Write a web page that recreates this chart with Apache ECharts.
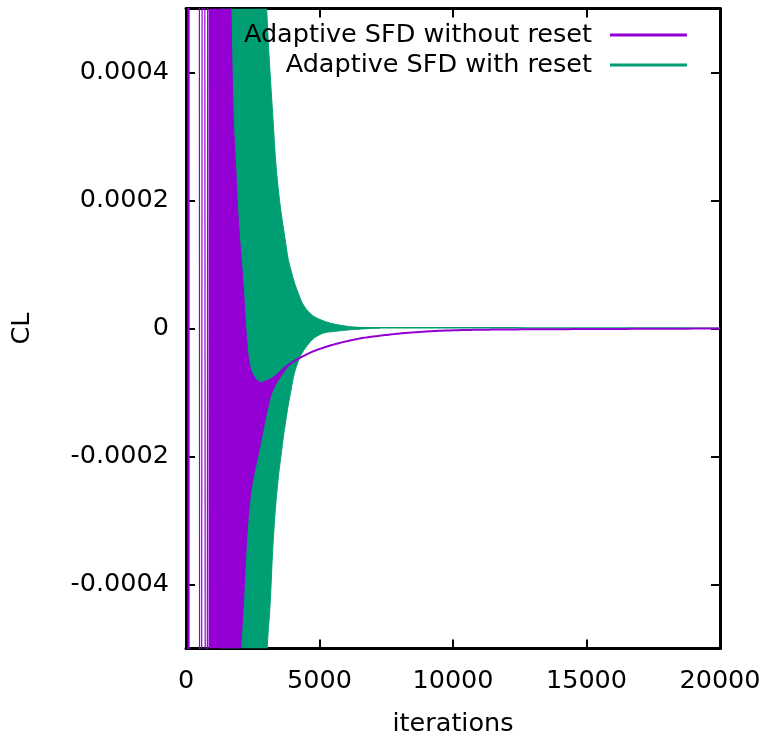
<!DOCTYPE html>
<html>
<head>
<meta charset="utf-8">
<script src="https://cdn.jsdelivr.net/npm/echarts@6/dist/echarts.min.js"></script>
<style>html,body{margin:0;padding:0;background:#fff}#c{width:766px;height:738px}</style>
</head>
<body>
<div id="c"></div>
<script>
// ---- data ----
const seriesNames = ['Adaptive SFD without reset', 'Adaptive SFD with reset'];
const xTickValues = [0, 5000, 10000, 15000, 20000];
const yTickValues = [-0.0004, -0.0002, 0, 0.0002, 0.0004];

// "without reset": early large swings (off-window peaks; only their crossings are visible)
const purpleEarlyIter = [40, 110, 120, 480, 530, 660, 765, 845];
const purpleEarlyVal  = [0.004, -0.004, 0.004, 0.004, -0.004, 0.004, -0.004, 0.004];
// "without reset": envelope of the dense oscillation
const purpleUpperIter = [861, 1600, 1685, 1771, 1835, 1959, 2146, 2273, 2397, 2584, 2870];
const purpleUpperVal  = [0.003, 0.00076, 0.0005, 0.000327, 0.000275, 0.00017, 0.0000656, -0.0000172, -0.0000589, -0.000077, -0.0000848];
const purpleLowerIter = [861, 1700, 2060, 2146, 2273, 2397, 2509, 2648, 2771, 2895, 3082, 3269, 3644, 3958, 4270];
const purpleLowerVal  = [-0.003, -0.00085, -0.000496, -0.000434, -0.00033, -0.000267, -0.000236, -0.000208, -0.000184, -0.000158, -0.000121, -0.0000953, -0.0000692, -0.0000536, -0.0000458];
// "without reset": slowly converging mean curve
const purpleCurveIter = [2870, 3270, 3770, 4270, 5019, 6254, 7378, 8640, 9887, 11760, 15505, 20000];
const purpleCurveVal  = [-0.0000848, -0.000077, -0.0000589, -0.0000458, -0.0000318, -0.0000178, -0.0000107, -0.0000057, -0.000003, -0.0000016, -0.0000008, 0];

// "with reset": envelope of the dense oscillation
const greenUpperIter = [1300, 2450, 2800, 3020, 3258, 3445, 3771, 3895, 4195, 4520, 5019, 6018, 7265];
const greenUpperVal  = [0.003, 0.0014, 0.00074, 0.0005, 0.000327, 0.000222, 0.000123, 0.0000969, 0.0000563, 0.0000297, 0.0000141, 0.0000036, 0.0000008];
const greenLowerIter = [1300, 2500, 2850, 3045, 3146, 3269, 3420, 3600, 3708, 3895, 4146, 4520, 5019, 5644, 6500, 7265];
const greenLowerVal  = [-0.003, -0.0015, -0.00072, -0.000497, -0.000434, -0.00033, -0.000248, -0.000185, -0.000152, -0.000105, -0.000058, -0.0000277, -0.0000094, -0.0000042, -0.000001, 0.0000008];
// "with reset": settled value
const greenCurveIter = [6018, 7265, 11760, 20000];
const greenCurveVal  = [0.0000012, 0.000001, 0.000001, 0.0000005];

// ---- styling ----
const PURPLE = '#9400d3';
const GREEN = '#009e73';
const FONT = 'DejaVu Sans';
const FS = 25.5;

function pairs(xs, ys) { return xs.map((x, i) => [x, ys[i]]); }

// smooth rendering (length-weighted cubic Bezier) of a pixel-space polyline
function smoothPixels(pts, seg) {
  const out = [];
  const n = pts.length;
  if (n < 3) return pts.slice();
  const dist = (a, b) => Math.hypot(a[0] - b[0], a[1] - b[1]) || 1e-6;
  const S = 0.4;
  for (let i = 0; i < n - 1; i++) {
    const p0 = pts[i - 1] || pts[i], p1 = pts[i], p2 = pts[i + 1], p3 = pts[i + 2] || pts[i + 1];
    const d01 = i > 0 ? dist(p0, p1) : 0, d12 = dist(p1, p2), d23 = i + 2 < n ? dist(p2, p3) : 0;
    const f1 = S * d12 / (d01 + d12), f2 = S * d12 / (d12 + d23);
    const c1 = [p1[0] + (p2[0] - p0[0]) * f1, p1[1] + (p2[1] - p0[1]) * f1];
    const c2 = [p2[0] - (p3[0] - p1[0]) * f2, p2[1] - (p3[1] - p1[1]) * f2];
    for (let k = 0; k < seg; k++) {
      const t = k / seg, u = 1 - t;
      const a = u * u * u, b = 3 * u * u * t, c = 3 * u * t * t, d = t * t * t;
      out.push([a * p1[0] + b * c1[0] + c * c2[0] + d * p2[0], a * p1[1] + b * c1[1] + c * c2[1] + d * p2[1]]);
    }
  }
  out.push(pts[n - 1]);
  return out;
}

function clipOf(params) {
  const cs = params.coordSys;
  return { type: 'rect', shape: { x: cs.x, y: cs.y, width: cs.width, height: cs.height } };
}

function band(name, color, ux, uy, lx, ly) {
  return {
    name: name, type: 'custom', coordinateSystem: 'cartesian2d',
    clip: true, silent: true,
    itemStyle: { color: color },
    data: [[ux[0], 0]],
    encode: { x: 0, y: 1 },
    renderItem: function (params, api) {
      const up = ux.map((x, i) => api.coord([x, uy[i]]));
      const lo = lx.map((x, i) => api.coord([x, ly[i]]));
      const pts = smoothPixels(up, 20).concat(smoothPixels(lo, 20).reverse());
      return {
        type: 'polygon',
        shape: { points: pts },
        style: { fill: color, stroke: color, lineWidth: 1 },
        clipPath: clipOf(params)
      };
    }
  };
}

function curve(name, color, xs, ys, width) {
  return {
    name: name, type: 'custom', coordinateSystem: 'cartesian2d',
    clip: true, silent: true,
    itemStyle: { color: color },
    data: [[xs[0], ys[0]]],
    encode: { x: 0, y: 1 },
    renderItem: function (params, api) {
      const p = xs.map((x, i) => api.coord([x, ys[i]]));
      return {
        type: 'polyline',
        shape: { points: smoothPixels(p, 20) },
        style: { fill: null, stroke: color, lineWidth: width, lineJoin: 'round' },
        clipPath: clipOf(params)
      };
    }
  };
}

function lineSeries(name, color, data, width) {
  return {
    name: name, type: 'line', data: data, showSymbol: false, symbol: 'none',
    clip: true, silent: true, connectNulls: false,
    lineStyle: { color: color, width: width }, itemStyle: { color: color }
  };
}

const frame = { show: true, onZero: false, lineStyle: { color: '#000', width: 3 } };
const ticks = { show: true, inside: true, length: 9, lineStyle: { color: '#000', width: 2 } };

function yFmt(v) {
  if (Math.abs(v) < 1e-12) return '0';
  for (const t of yTickValues) if (Math.abs(v - t) < 1e-9) return t.toFixed(4);
  return '';
}
function xFmt(v) { return String(Math.round(v)); }

// purple band: its top edge follows the mean curve once the oscillation has died out
const purpleBandUpperIter = purpleUpperIter.concat(purpleCurveIter.filter(x => x > 2870 && x <= 4270));
const purpleBandUpperVal = purpleUpperVal.concat(purpleCurveVal.filter((v, i) => purpleCurveIter[i] > 2870 && purpleCurveIter[i] <= 4270));

const chart = echarts.init(document.getElementById('c'), null, { renderer: 'canvas' });
chart.setOption({
  animation: false,
  backgroundColor: '#fff',
  textStyle: { fontFamily: FONT },
  grid: { left: 186, right: 46, top: 8.5, bottom: 89.5, containLabel: false, outerBoundsMode: 'none' },
  legend: {
    orient: 'vertical', right: 79, top: 20, padding: 0, itemGap: 0,
    align: 'right', itemWidth: 77, itemHeight: 3, selectedMode: false,
    textStyle: { fontFamily: FONT, fontSize: FS, color: '#000', lineHeight: 30, padding: [0, 13, 0, 0] },
    data: [
      { name: seriesNames[0], icon: 'rect', itemStyle: { color: PURPLE } },
      { name: seriesNames[1], icon: 'rect', itemStyle: { color: GREEN } }
    ]
  },
  xAxis: [
    {
      type: 'value', min: xTickValues[0], max: xTickValues[xTickValues.length - 1], interval: 5000, position: 'bottom',
      axisLine: frame, axisTick: ticks, splitLine: { show: false },
      axisLabel: { color: '#000', fontSize: FS, fontFamily: FONT, margin: 20, formatter: xFmt },
      name: 'iterations', nameLocation: 'middle', nameGap: 63,
      nameTextStyle: { color: '#000', fontSize: FS, fontFamily: FONT }
    },
    {
      type: 'value', min: xTickValues[0], max: xTickValues[xTickValues.length - 1], interval: 5000, position: 'top',
      axisLine: frame, axisTick: ticks, splitLine: { show: false }, axisLabel: { show: false }
    }
  ],
  yAxis: [
    {
      type: 'value', min: -0.0005, max: 0.0005, splitNumber: 5, position: 'left',
      axisLine: frame, axisTick: ticks, splitLine: { show: false },
      axisLabel: { color: '#000', fontSize: FS, fontFamily: FONT, margin: 17, formatter: yFmt },
      name: 'CL', nameLocation: 'middle', nameGap: 151, nameRotate: 90,
      nameTextStyle: { color: '#000', fontSize: FS, fontFamily: FONT }
    },
    {
      type: 'value', min: -0.0005, max: 0.0005, splitNumber: 5, position: 'right',
      axisLine: frame, axisTick: ticks, splitLine: { show: false }, axisLabel: { show: false }
    }
  ],
  series: [
    band(seriesNames[1], GREEN, greenUpperIter, greenUpperVal, greenLowerIter, greenLowerVal),
    curve(seriesNames[1], GREEN, greenCurveIter, greenCurveVal, 1.5),
    lineSeries(seriesNames[0], PURPLE, pairs(purpleEarlyIter, purpleEarlyVal), 1.2),
    band(seriesNames[0], PURPLE, purpleBandUpperIter, purpleBandUpperVal, purpleLowerIter, purpleLowerVal),
    curve(seriesNames[0], PURPLE, purpleCurveIter, purpleCurveVal, 2)
  ]
});
</script>
</body>
</html>
